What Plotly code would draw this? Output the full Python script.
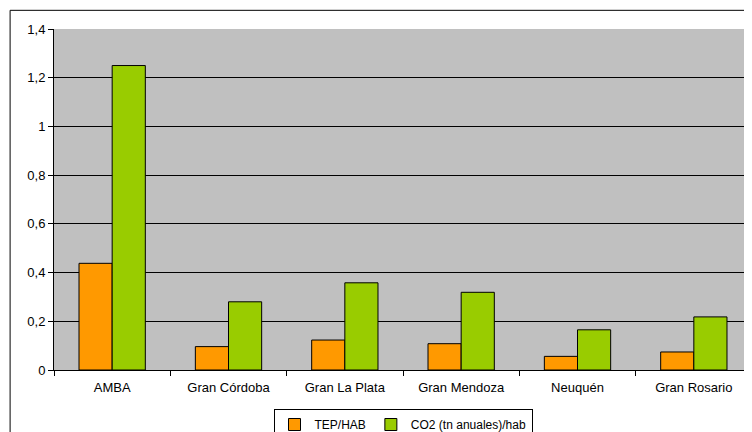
import plotly.graph_objects as go

categories = ["AMBA", "Gran Córdoba", "Gran La Plata", "Gran Mendoza", "Neuquén", "Gran Rosario"]
tep_hab = [0.438, 0.096, 0.123, 0.108, 0.056, 0.074]
co2_hab = [1.25, 0.28, 0.358, 0.319, 0.165, 0.218]
series_names = ["TEP/HAB", "CO2 (tn anuales)/hab"]
y_ticks = [0, 0.2, 0.4, 0.6, 0.8, 1, 1.2, 1.4]

font_family = "Liberation Sans, Arial, sans-serif"

fig = go.Figure()
fig.add_trace(go.Bar(x=categories, y=tep_hab, name=series_names[0],
                     marker=dict(color="#FF9900", line=dict(color="black", width=1))))
fig.add_trace(go.Bar(x=categories, y=co2_hab, name=series_names[1],
                     marker=dict(color="#99CC00", line=dict(color="black", width=1))))

fig.update_layout(
    width=744, height=432,
    margin=dict(l=46, r=0, t=21, b=66),
    paper_bgcolor="white",
    plot_bgcolor="#C0C0C0",
    separators=",.",
    barmode="group",
    bargap=0.43,
    bargroupgap=0,
    font=dict(family=font_family, size=12, color="black"),
    showlegend=True,
    legend=dict(orientation="h", x=0.5, xanchor="center", y=-0.116, yanchor="top",
                bordercolor="black", borderwidth=1, bgcolor="white",
                font=dict(size=12), itemwidth=30, tracegroupgap=0),
    xaxis=dict(showline=True, linecolor="black", linewidth=1, ticks="outside",
               tickson="boundaries", ticklen=5, tickcolor="black", showgrid=False,
               ticklabelstandoff=5, tickfont=dict(size=13)),
    yaxis=dict(range=[0, 1.4], tickvals=y_ticks, showline=True, linecolor="black",
               linewidth=1, ticks="outside", ticklen=5, tickcolor="black",
               showgrid=True, gridcolor="black", gridwidth=1, zeroline=False,
               tickfont=dict(size=13)),
    shapes=[dict(type="rect", xref="paper", yref="paper", x0=-0.0629, x1=1.02,
                 y0=-0.3, y1=1.0548, line=dict(color="black", width=1),
                 fillcolor="rgba(0,0,0,0)", layer="above")],
)

fig.write_html("out.html")
